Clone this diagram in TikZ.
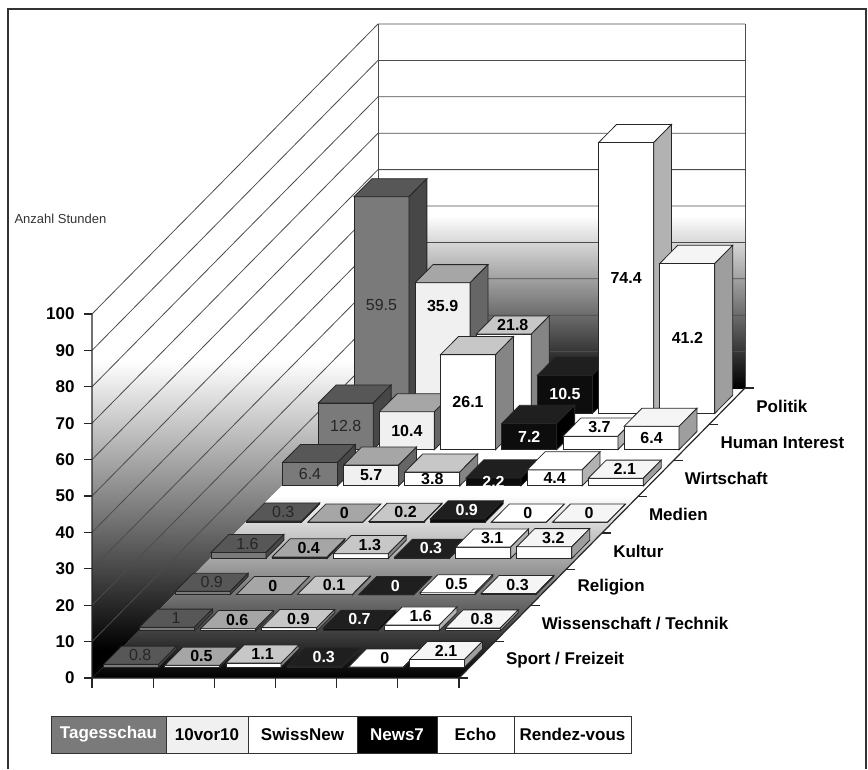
\documentclass[tikz,border=0pt]{standalone}
\usepackage{fontspec}
\setmainfont{Liberation Sans}
\usetikzlibrary{positioning}

% one 3D bar: column, row, value, series style, label place (<=1 front, >1 top)
\newcommand{\drawbar}[5]{%
  \pgfmathsetmacro\bx{93+#1*61.17+(#2+0.3)*35.75}%
  \pgfmathsetmacro\by{678-(#2+0.3)*36.25}%
  \pgfmathsetmacro\bt{\by-#3*3.64}%
  \begin{scope}[#4]
    \filldraw[bar front] (\bx,\by) rectangle ({\bx+55},\bt);
    \filldraw[bar top] (\bx,\bt) -- ++(55,0) -- ++(17.9,-18.1) -- ++(-55,0) -- cycle;
    \filldraw[bar side] ({\bx+55},\by) -- ++(17.9,-18.1) -- ({\bx+72.9},{\bt-18.1}) -- ({\bx+55},\bt) -- cycle;
    \ifdim #5pt>1pt
      \node[bar label] (val-#1-#2) at ({\bx+36.5},{\bt-9}) {#3};
    \else
      \node[bar label] (val-#1-#2) at ({\bx+27.5},{\by-#5*(\by-\bt)}) {#3};
    \fi
  \end{scope}}

\begin{document}
\begin{tikzpicture}[x=1pt, y=-1pt,
    grid line/.style={black!70, line width=0.8pt},
    axis line/.style={black!85, line width=1.2pt},
    big font/.style={font=\fontsize{17}{20}\selectfont\bfseries},
    bar front/.style={fill=white, draw=black!85, line width=0.8pt},
    bar top/.style={fill=white, draw=black!85, line width=0.8pt},
    bar side/.style={fill=black!40, draw=black!85, line width=0.8pt},
    bar label/.style={font=\fontsize{16}{18}\selectfont\bfseries, inner sep=0pt},
    tagesschau/.style={bar front/.append style={fill=black!52}, bar top/.append style={fill=black!66},
      bar side/.append style={fill=black!72}, bar label/.append style={font=\fontsize{16}{18}\selectfont, text=black!85}},
    zehnvorzehn/.style={bar front/.append style={fill=black!6}, bar top/.append style={fill=black!35},
      bar side/.append style={fill=black!60}},
    swissnew/.style={bar top/.append style={fill=black!22}, bar side/.append style={fill=black!48}},
    newsseven/.style={bar front/.append style={fill=black!95}, bar top/.append style={fill=black!88},
      bar side/.append style={fill=black}, bar label/.append style={text=white}},
    echo/.style={bar side/.append style={fill=black!30}},
    rendezvous/.style={bar top/.append style={fill=black!4}, bar side/.append style={fill=black!38}},
    legend cell/.style={big font, draw=black!80, line width=1pt, inner sep=0pt, outer sep=0pt, minimum height=37pt},
    cat label/.style={big font, inner sep=0pt}
  ]
  \useasboundingbox (0,0) rectangle (868,769);
  \draw[black!80, line width=1.5pt] (8,769) -- (8,9) -- (866,9) -- (866,769);

  % walls and floor
  \begin{scope}
    \clip (92,678) -- (92,314) -- (378,24) -- (378,388) -- cycle;
    \shade[top color=white, bottom color=black] (92,360) rectangle (378,650);
    \fill[black] (92,650) rectangle (378,680);
  \end{scope}
  \begin{scope}
    \clip (378,24) rectangle (745,388);
    \shade[top color=white, bottom color=black] (378,215) rectangle (745,388);
  \end{scope}
  \begin{scope}
    \clip (92,678) -- (459,678) -- (745,388) -- (378,388) -- cycle;
    \shade[top color=white, bottom color=black] (92,495) rectangle (745,678);
  \end{scope}

  \foreach \v in {10,20,...,100}
    \draw[grid line] (92,{678-\v*3.64}) -- ++(286,-290) -- ++(367,0);
  \draw[grid line] (378,24) -- (378,388) (745,24) -- (745,388);

  % axes
  \draw[axis line] (92,314) -- (92,678) -- (459,678) -- (745,388);
  \foreach \v in {0,10,...,100} {
    \draw[axis line] (84,{678-\v*3.64}) -- (92,{678-\v*3.64});
    \node[big font, anchor=east] (tick\v) at (78,{678-\v*3.64}) {\v};
  }
  \foreach \c in {0,...,6}
    \draw[axis line] ({92+\c*61.17},678) -- ++(0,10);
  \foreach \r in {0,...,8}
    \draw[axis line] ({459+\r*35.75},{678-\r*36.25}) -- ++(9,0);
  \node[anchor=west, font=\fontsize{13}{15}\selectfont, text=black!80] (ytitle) at (11,219) {Anzahl Stunden};

  \foreach \r/\name/\txt in {0/sport/{Sport / Freizeit}, 1/wissenschaft/{Wissenschaft / Technik},
      2/religion/Religion, 3/kultur/Kultur, 4/medien/Medien, 5/wirtschaft/Wirtschaft,
      6/human/Human Interest, 7/politik/Politik} {
    \coordinate (row\r) at ({459+(\r+0.5)*35.75},{678-(\r+0.5)*36.25});
    \node[cat label, right=29pt of row\r] (cat-\name) {\txt};
  }

  % bars, back row first
  \foreach \r/\vals in {
      7/{59.5/.5,35.9/.82,21.8/2,10.5/.5,74.4/.5,41.2/.5},
      6/{12.8/.5,10.4/.5,26.1/.5,7.2/.5,3.7/2,6.4/.5},
      5/{6.4/.5,5.7/.5,3.8/.5,2.2/.5,4.4/.5,2.1/2},
      4/{0.3/2,0/2,0.2/2,0.9/2,0/2,0/2},
      3/{1.6/2,0.4/2,1.3/2,0.3/2,3.1/2,3.2/2},
      2/{0.9/2,0/2,0.1/2,0/2,0.5/2,0.3/2},
      1/{1/2,0.6/2,0.9/2,0.7/2,1.6/2,0.8/2},
      0/{0.8/2,0.5/2,1.1/2,0.3/2,0/2,2.1/2}}
    \foreach \v/\p [count=\c from 0] in \vals {
      \pgfmathparse{{"tagesschau","zehnvorzehn","swissnew","newsseven","echo","rendezvous"}[\c]}
      \edef\barcall{\noexpand\drawbar{\c}{\r}{\v}{\pgfmathresult}{\p}}\barcall
    };

  % legend
  \node[legend cell, fill=black!52, text=white, minimum width=115pt, anchor=north west] (leg-tagesschau) at (51,716) {Tagesschau};
  \node[legend cell, fill=black!6, minimum width=82pt, right=0pt of leg-tagesschau] (leg-zehnvorzehn) {10vor10};
  \node[legend cell, fill=white, minimum width=109pt, right=0pt of leg-zehnvorzehn] (leg-swissnew) {SwissNew};
  \node[legend cell, fill=black, text=white, minimum width=80pt, right=0pt of leg-swissnew] (leg-newsseven) {News7};
  \node[legend cell, fill=white, minimum width=77pt, right=0pt of leg-newsseven] (leg-echo) {Echo};
  \node[legend cell, fill=white, minimum width=117pt, right=0pt of leg-echo] (leg-rendezvous) {Rendez-vous};
\end{tikzpicture}
\end{document}
